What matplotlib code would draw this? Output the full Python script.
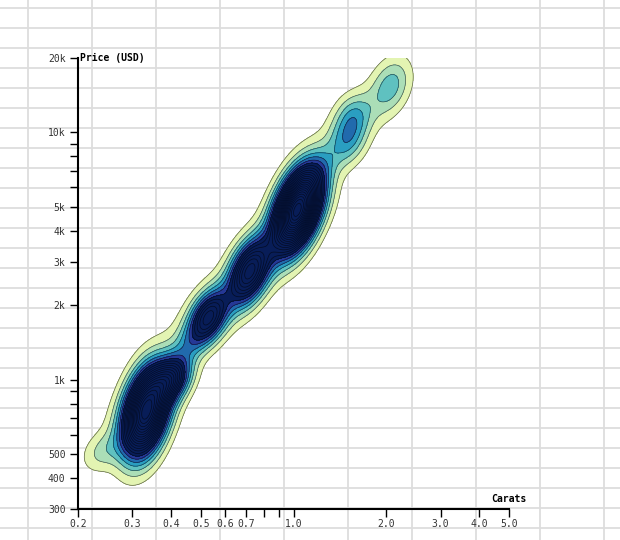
import numpy as np
import matplotlib
matplotlib.use('Agg')
import matplotlib.pyplot as plt
from matplotlib.colors import Normalize

plt.rcParams['font.family'] = ['DejaVu Sans Mono']

# density components (carat, price, weight, spread in decades)
blob_carat = [0.239, 0.332, 0.404, 0.455, 0.529, 0.72, 1.03, 1.24, 1.49, 1.56, 2.06,
              0.325, 0.529, 0.72, 1.03, 1.52, 2.0]
blob_price = [510, 741, 1015, 1390, 1780, 2740, 4870, 7200, 9100, 11600, 15400,
              741, 1780, 2740, 4870, 10200, 15000]
blob_weight = [0.10, 1.00, 0.45, 0.10, 0.48, 0.58, 1.20, 0.05, 0.16, 0.16, 0.155,
               0.08, 0.08, 0.08, 0.08, 0.04, 0.02]
blob_sx = [0.045, 0.050, 0.042, 0.039, 0.042, 0.045, 0.052, 0.039, 0.042, 0.042, 0.045,
           0.084, 0.084, 0.084, 0.084, 0.084, 0.070]
blob_sy = [0.057, 0.121, 0.061, 0.057, 0.073, 0.089, 0.113, 0.057, 0.065, 0.065, 0.080,
           0.105, 0.105, 0.105, 0.105, 0.105, 0.090]
blob_rho = [0.3, 0.35, 0.3, 0.3, 0.4, 0.4, 0.45, 0.3, 0.2, 0.2, 0.3,
            0.5, 0.5, 0.5, 0.5, 0.5, 0.4]

x_ticks = [0.2, 0.3, 0.4, 0.5, 0.6, 0.7, 0.8, 0.9, 1.0, 2.0, 3.0, 4.0, 5.0]
x_labels = ['0.2', '0.3', '0.4', '0.5', '0.6', '0.7', '', '', '1.0', '2.0', '3.0', '4.0', '5.0']
y_ticks = [300, 400, 500, 600, 700, 800, 900, 1000, 2000, 3000, 4000, 5000,
           6000, 7000, 8000, 9000, 10000, 20000]
y_labels = ['300', '400', '500', '', '', '', '', '1k', '2k', '3k', '4k', '5k',
            '', '', '', '', '10k', '20k']

step = 0.05
n_levels = 30

# density on a log grid
gx = np.logspace(np.log10(0.2), np.log10(5.0), 500)
gy = np.logspace(np.log10(300), np.log10(20000), 500)
X, Y = np.meshgrid(gx, gy)
LX, LY = np.log10(X), np.log10(Y)
dens = np.zeros_like(X)
for c, p, w, sx, sy, r in zip(blob_carat, blob_price, blob_weight, blob_sx, blob_sy, blob_rho):
    dx = (LX - np.log10(c)) / sx
    dy = (LY - np.log10(p)) / sy
    q = (dx**2 - 2 * r * dx * dy + dy**2) / (1 - r**2)
    dens += w * np.exp(-q / 2)

levels = step * np.arange(1, n_levels + 1)

fig = plt.figure(figsize=(6.2, 5.4), dpi=100)

# graph paper background
bg = fig.add_axes([0, 0, 1, 1])
bg.set_xlim(0, 620)
bg.set_ylim(540, 0)
bg.set_xticks(np.arange(28, 620, 64))
bg.set_yticks(np.arange(8, 540, 20))
bg.grid(True, color='#dddddd', linewidth=1.3)
bg.tick_params(length=0, labelbottom=False, labelleft=False)
for s in bg.spines.values():
    s.set_visible(False)

ax = fig.add_axes([78 / 620, 31 / 540, 431 / 620, 451 / 540])
ax.set_facecolor('none')
ax.set_xscale('log')
ax.set_yscale('log')

norm = Normalize(vmin=0.357 * step, vmax=7.5 * step)
ax.contourf(X, Y, dens, levels=levels, cmap='YlGnBu', norm=norm, extend='max')
ax.contour(X, Y, dens, levels=levels, colors='black', linewidths=0.5, alpha=0.6)

ax.set_xlim(0.2, 5.0)
ax.set_ylim(300, 20000)
ax.minorticks_off()
ax.set_xticks(x_ticks)
ax.set_xticklabels(x_labels)
ax.set_yticks(y_ticks)
ax.set_yticklabels(y_labels)
ax.tick_params(direction='out', length=6, width=1, labelsize=7, colors='black',
               labelcolor='#333333')
ax.tick_params(axis='x', pad=1.5)
ax.tick_params(axis='y', pad=3)
for s in ['top', 'right']:
    ax.spines[s].set_visible(False)
for s in ['left', 'bottom']:
    ax.spines[s].set_linewidth(1.5)

ax.text(0.005, 1.0, 'Price (USD)', transform=ax.transAxes, fontsize=7,
        fontweight='bold', ha='left', va='center')
ax.text(1.04, 0.012, 'Carats', transform=ax.transAxes, fontsize=7,
        fontweight='bold', ha='right', va='bottom')

fig.savefig('out.png', dpi=100)
